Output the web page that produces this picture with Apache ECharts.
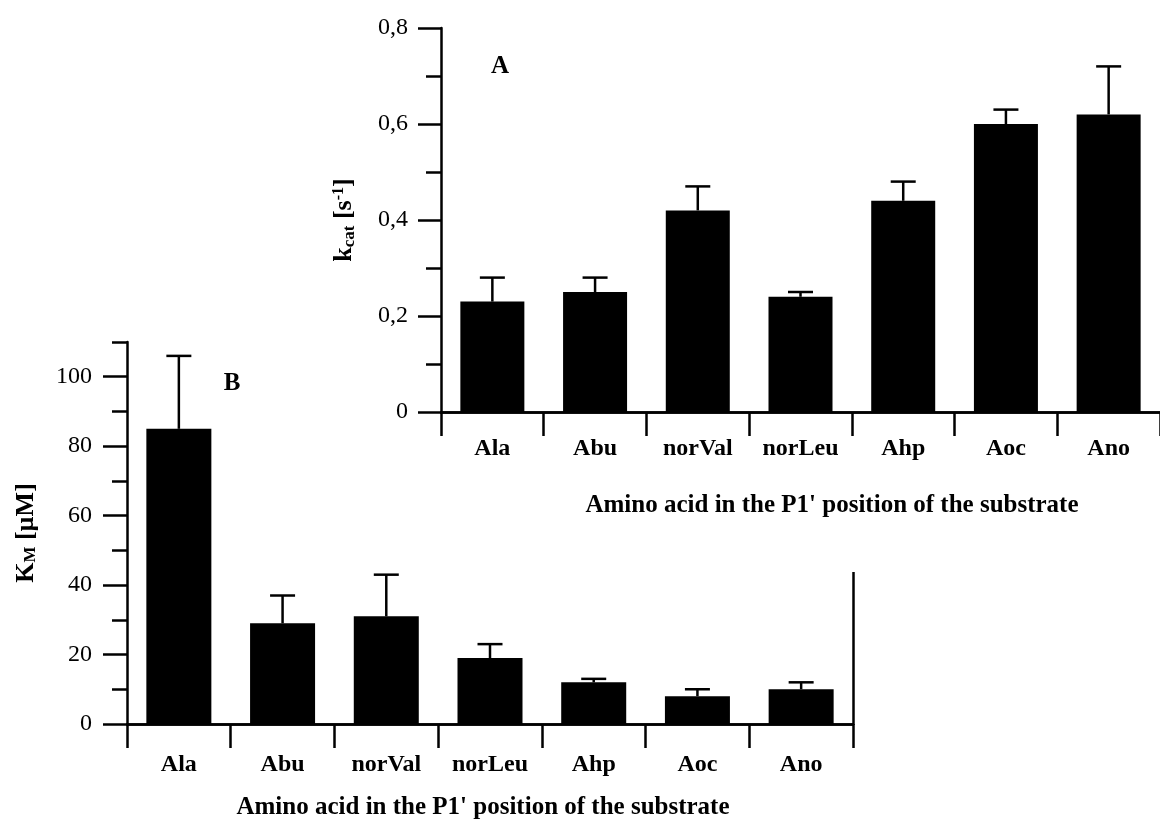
<!DOCTYPE html>
<html>
<head>
<meta charset="UTF-8">
<title>kcat / KM</title>
<script src="https://cdn.jsdelivr.net/npm/echarts@6/dist/echarts.min.js"></script>
<style>
  html, body { margin: 0; padding: 0; background: #fff; }
  #main { width: 1160px; height: 832px; }
</style>
</head>
<body>
<div id="main"></div>
<script>
// amino acids in P1'
var categories = ['Ala', 'Abu', 'norVal', 'norLeu', 'Ahp', 'Aoc', 'Ano'];

// panel A : kcat [s-1]
var kcatValues = [0.23, 0.25, 0.42, 0.24, 0.44, 0.60, 0.62];
var kcatUpper = [0.28, 0.28, 0.47, 0.25, 0.48, 0.63, 0.72];
var kcatMajorTicks = [0, 0.2, 0.4, 0.6, 0.8];
var kcatMinorTicks = [0.1, 0.3, 0.5, 0.7];

// panel B : KM [uM]
var kmValues = [85, 29, 31, 19, 12, 8, 10];
var kmUpper = [106, 37, 43, 23, 13, 10, 12];
var kmMajorTicks = [0, 20, 40, 60, 80, 100];
var kmMinorTicks = [10, 30, 50, 70, 90, 110];

var serif = '"Liberation Serif", "Times New Roman", serif';
var lw = 2.5;
var xName = "Amino acid in the P1' position of the substrate";

var myChart = echarts.init(document.getElementById('main'), null, { renderer: 'canvas' });

function errData(vals, ups) {
  var out = [];
  for (var i = 0; i < vals.length; i++) {
    out.push([i, vals[i], ups[i]]);
  }
  return out;
}

function renderErr(params, api) {
  var base = api.coord([api.value(0), api.value(1)]);
  var top = api.coord([api.value(0), api.value(2)]);
  var st = { stroke: '#000', lineWidth: 2.5 };
  return {
    type: 'group',
    children: [
      { type: 'line', shape: { x1: base[0], y1: base[1], x2: top[0], y2: top[1] }, style: st },
      { type: 'line', shape: { x1: top[0] - 12.5, y1: top[1], x2: top[0] + 12.5, y2: top[1] }, style: st }
    ]
  };
}

function catAxis(grid, z, margin) {
  return {
    type: 'category', gridIndex: grid, z: z, data: categories, position: 'bottom',
    axisLine: { lineStyle: { color: '#000', width: lw } },
    axisTick: { show: true, interval: 0, length: 24, lineStyle: { color: '#000', width: lw } },
    axisLabel: { interval: 0, margin: margin, color: '#000', fontFamily: serif, fontWeight: 'bold', fontSize: 24 },
    splitLine: { show: false }
  };
}

function topAxis(grid, z) {
  return {
    type: 'category', gridIndex: grid, z: z, data: categories, position: 'top',
    axisLine: { lineStyle: { color: '#000', width: lw } },
    axisTick: { show: false }, axisLabel: { show: false }, splitLine: { show: false }
  };
}

var option = {
  backgroundColor: '#fff',
  animation: false,
  grid: [
    { left: 441, top: 28, width: 726, height: 384 },
    { left: 127, top: 342, width: 726, height: 382 }
  ],
  xAxis: [
    catAxis(0, 10, 25),
    topAxis(0, 10),
    catAxis(1, 0, 29),
    topAxis(1, 0)
  ],
  yAxis: [
    {
      type: 'value', gridIndex: 0, z: 10, min: 0, max: 0.8, position: 'left',
      axisLine: { show: true, lineStyle: { color: '#000', width: lw } },
      axisTick: { show: true, length: 23, customValues: kcatMajorTicks, lineStyle: { color: '#000', width: lw } },
      axisLabel: {
        customValues: kcatMajorTicks, margin: 33, color: '#000', fontFamily: serif, fontSize: 24,
        formatter: function (v) { return v === 0 ? '0' : v.toFixed(1).replace('.', ','); }
      },
      splitLine: { show: false },
      name: 'k{sub|cat} [s{sup|-1}]', nameLocation: 'middle', nameGap: 83,
      nameTextStyle: {
        color: '#000', fontFamily: serif, fontWeight: 'bold', fontSize: 26,
        rich: {
          sub: { fontFamily: serif, fontWeight: 'bold', fontSize: 17, verticalAlign: 'bottom', padding: [10, 0, 0, 0] },
          sup: { fontFamily: serif, fontWeight: 'bold', fontSize: 16, verticalAlign: 'top', padding: [0, 0, 11, 0] }
        }
      }
    },
    {
      type: 'value', gridIndex: 0, z: 10, min: 0, max: 0.8, position: 'left',
      axisLine: { show: false },
      axisTick: { show: true, length: 15, customValues: kcatMinorTicks, lineStyle: { color: '#000', width: lw } },
      axisLabel: { show: false }, splitLine: { show: false }
    },
    {
      type: 'value', gridIndex: 1, z: 0, min: 0, max: 110, position: 'left',
      axisLine: { show: true, lineStyle: { color: '#000', width: lw } },
      axisTick: { show: true, length: 24, customValues: kmMajorTicks, lineStyle: { color: '#000', width: lw } },
      axisLabel: { customValues: kmMajorTicks, margin: 35, color: '#000', fontFamily: serif, fontSize: 24 },
      splitLine: { show: false },
      name: 'K{sub|M} [µM]', nameLocation: 'middle', nameGap: 88,
      nameTextStyle: {
        color: '#000', fontFamily: serif, fontWeight: 'bold', fontSize: 26,
        rich: {
          sub: { fontFamily: serif, fontWeight: 'bold', fontSize: 17, verticalAlign: 'bottom', padding: [5, 0, 0, 0] }
        }
      }
    },
    {
      type: 'value', gridIndex: 1, z: 0, min: 0, max: 110, position: 'left',
      axisLine: { show: false },
      axisTick: { show: true, length: 15, customValues: kmMinorTicks, lineStyle: { color: '#000', width: lw } },
      axisLabel: { show: false }, splitLine: { show: false }
    },
    {
      type: 'value', gridIndex: 1, z: 0, min: 0, max: 110, position: 'right',
      axisLine: { show: true, lineStyle: { color: '#000', width: lw } },
      axisTick: { show: false }, axisLabel: { show: false }, splitLine: { show: false }
    }
  ],
  graphic: [
    // panel A sits on top of panel B and hides its frame
    { type: 'rect', z: 5, shape: { x: 324, y: 0, width: 836, height: 572 }, style: { fill: '#fff' } },
    { type: 'text', z: 20, x: 500, y: 67, style: { text: 'A', fill: '#000', font: 'bold 25px ' + serif, align: 'center', verticalAlign: 'middle' } },
    { type: 'text', z: 20, x: 232, y: 384, style: { text: 'B', fill: '#000', font: 'bold 25px ' + serif, align: 'center', verticalAlign: 'middle' } },
    { type: 'text', z: 20, x: 832, y: 506, style: { text: xName, fill: '#000', font: 'bold 25px ' + serif, align: 'center', verticalAlign: 'middle' } },
    { type: 'text', z: 2, x: 483, y: 808, style: { text: xName, fill: '#000', font: 'bold 25px ' + serif, align: 'center', verticalAlign: 'middle' } }
  ],
  series: [
    {
      name: 'kcat', type: 'bar', xAxisIndex: 0, yAxisIndex: 0, z: 11,
      barWidth: 64, itemStyle: { color: '#000' }, data: kcatValues
    },
    {
      name: 'kcat err', type: 'custom', xAxisIndex: 0, yAxisIndex: 0, z: 12,
      renderItem: renderErr, data: errData(kcatValues, kcatUpper)
    },
    {
      name: 'KM', type: 'bar', xAxisIndex: 2, yAxisIndex: 2, z: 1,
      barWidth: 65, itemStyle: { color: '#000' }, data: kmValues
    },
    {
      name: 'KM err', type: 'custom', xAxisIndex: 2, yAxisIndex: 2, z: 1,
      renderItem: renderErr, data: errData(kmValues, kmUpper)
    }
  ]
};

myChart.setOption(option);
</script>
</body>
</html>
